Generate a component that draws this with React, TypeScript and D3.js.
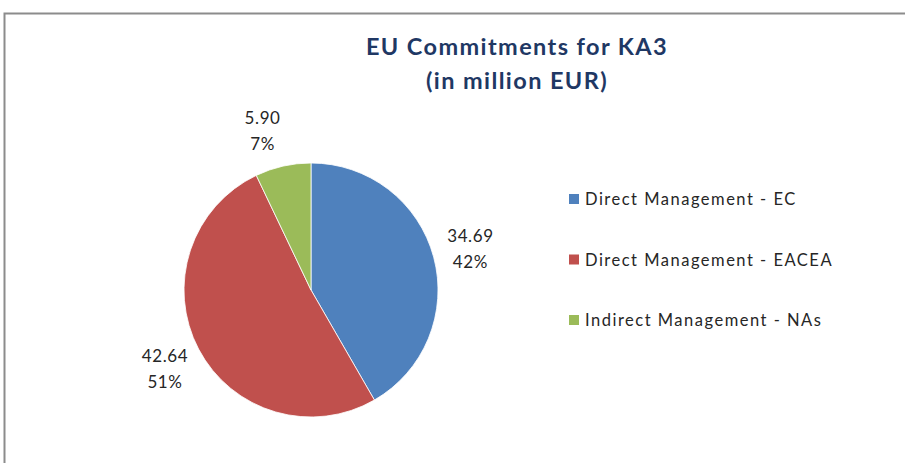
import React, { useEffect, useRef } from "react";
import * as d3 from "d3";

// values (million EUR)
const categories = [
  "Direct Management - EC",
  "Direct Management - EACEA",
  "Indirect Management - NAs",
];
const values = [34.69, 42.64, 5.9];
const colors = ["#4F81BD", "#C0504D", "#9BBB59"];
const titleLines = ["EU Commitments for KA3", "(in million EUR)"];

const W = 905;
const H = 463;

export default function App() {
  const ref = useRef<SVGSVGElement>(null);

  useEffect(() => {
    const svg = d3.select(ref.current);
    svg.selectAll("*").remove();

    const font = "Lato, 'Open Sans', sans-serif";

    // chart frame (runs off the right and bottom)
    svg
      .append("rect")
      .attr("x", 4.5)
      .attr("y", 13.5)
      .attr("width", W + 20)
      .attr("height", H + 20)
      .attr("fill", "#fff")
      .attr("stroke", "#8c8c8c")
      .attr("stroke-width", 2);

    // title
    svg
      .selectAll(".title")
      .data(titleLines)
      .join("text")
      .attr("class", "title")
      .attr("x", 517)
      .attr("y", (d, i) => 55 + i * 34)
      .attr("text-anchor", "middle")
      .style("font-family", font)
      .style("font-weight", "bold")
      .style("font-size", "23.5px")
      .style("letter-spacing", "1.4px")
      .style("fill", "#1F3864")
      .text((d) => d);

    const cx = 311,
      cy = 290,
      r = 127;
    const total = d3.sum(values);

    const pie = d3
      .pie<number>()
      .sort(null)
      .value((d) => d);
    const arcs = pie(values);
    const arc = d3.arc<d3.PieArcDatum<number>>().innerRadius(0).outerRadius(r);
    const labelArc = d3
      .arc<d3.PieArcDatum<number>>()
      .innerRadius(165)
      .outerRadius(165);

    const g = svg.append("g").attr("transform", `translate(${cx},${cy})`);

    g.selectAll(".slice")
      .data(arcs)
      .join("path")
      .attr("class", "slice")
      .attr("d", arc)
      .attr("fill", (d, i) => colors[i])
      .attr("stroke", "#fff")
      .attr("stroke-width", 0.8);

    const labels = g
      .selectAll(".lbl")
      .data(arcs)
      .join("text")
      .attr("class", "lbl")
      .attr("transform", (d) => {
        const [x, y] = labelArc.centroid(d);
        // nudge the small top slice's label outwards horizontally, like Excel's best fit
        const nx = d.endAngle - d.startAngle < 0.6 ? x - 12 : x;
        return `translate(${nx},${y})`;
      })
      .attr("text-anchor", "middle")
      .style("font-family", font)
      .style("font-size", "17px")
      .style("letter-spacing", "0.6px")
      .style("fill", "#262626");

    labels
      .append("tspan")
      .attr("x", 0)
      .attr("y", -5)
      .text((d) => d.data.toFixed(2));
    labels
      .append("tspan")
      .attr("x", 0)
      .attr("y", 21)
      .text((d) => Math.round((d.data / total) * 100) + "%");

    // legend
    const legend = svg
      .selectAll(".legend")
      .data(categories)
      .join("g")
      .attr("class", "legend")
      .attr("transform", (d, i) => `translate(569,${199 + i * 60.5})`);

    legend
      .append("rect")
      .attr("x", 0)
      .attr("y", -5)
      .attr("width", 10)
      .attr("height", 10)
      .attr("fill", (d, i) => colors[i]);

    legend
      .append("text")
      .attr("x", 16)
      .attr("y", 6)
      .style("font-family", font)
      .style("font-size", "16.5px")
      .style("letter-spacing", "1.5px")
      .style("fill", "#262626")
      .text((d) => d);
  }, []);

  return (
    <svg
      ref={ref}
      width={W}
      height={H}
      style={{ position: "absolute", left: 0, top: 0, display: "block" }}
    />
  );
}
